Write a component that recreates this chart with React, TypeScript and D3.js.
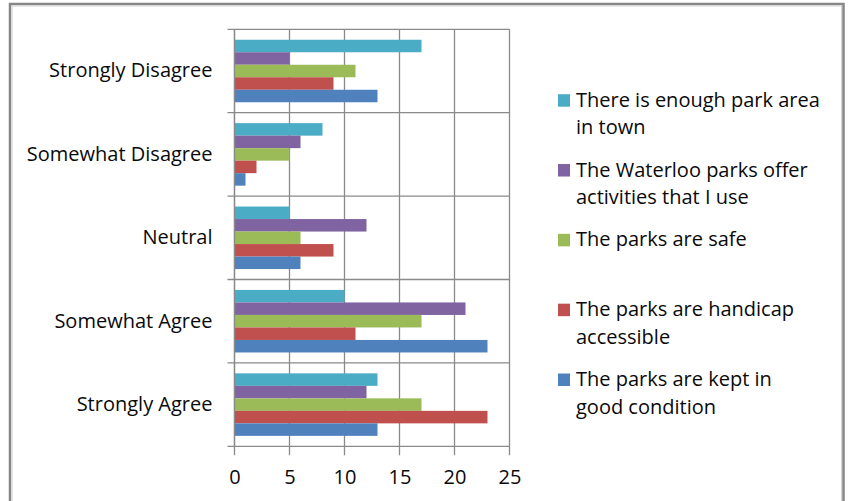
import React, { useEffect, useRef } from 'react';
import * as d3 from 'd3';

// categories, top to bottom as drawn
const categories = ['Strongly Disagree', 'Somewhat Disagree', 'Neutral', 'Somewhat Agree', 'Strongly Agree'];

// series, in the order they stack top to bottom inside a category
const seriesNames = [
  'There is enough park area in town',
  'The Waterloo parks offer activities that I use',
  'The parks are safe',
  'The parks are handicap accessible',
  'The parks are kept in good condition',
];
const seriesColors = ['#4BACC6', '#8064A2', '#9BBB59', '#C0504D', '#4F81BD'];

// legend text lines (same order as seriesNames)
const legendLines = [
  ['There is enough park area', 'in town'],
  ['The Waterloo parks offer', 'activities that I use'],
  ['The parks are safe'],
  ['The parks are handicap', 'accessible'],
  ['The parks are kept in', 'good condition'],
];

// values per category (rows follow categories), columns follow seriesNames
const enoughArea = [17, 8, 5, 10, 13];
const activities = [5, 6, 12, 21, 12];
const safe = [11, 5, 6, 17, 17];
const accessible = [9, 2, 9, 11, 23];
const goodCondition = [13, 1, 6, 23, 13];
const seriesValues = [enoughArea, activities, safe, accessible, goodCondition];

const xTicks = [0, 5, 10, 15, 20, 25];

const W = 848;
const H = 501;
const FONT = "'Open Sans', 'Noto Sans', sans-serif";
const FS = '20px';

const App: React.FC = () => {
  const ref = useRef<SVGSVGElement | null>(null);

  useEffect(() => {
    if (!ref.current) return;
    const svg = d3.select<SVGSVGElement, unknown>(ref.current);
    svg.selectAll('*').remove();

    // outer chart frame
    svg.append('rect')
      .attr('x', 10).attr('y', 4).attr('width', 833.5).attr('height', 540)
      .attr('fill', '#fff').attr('stroke', '#878787').attr('stroke-width', 2.5);
    svg.append('rect')
      .attr('x', 12).attr('y', 6).attr('width', 829.5).attr('height', 540)
      .attr('fill', 'none').attr('stroke', '#d4d4d4').attr('stroke-width', 1);

    const plot = { left: 234.5, right: 509.5, top: 29.3, bottom: 446.3 };

    const x = d3.scaleLinear().domain([0, 25]).range([plot.left, plot.right]);
    const y = d3.scaleBand<string>().domain(categories).range([plot.top, plot.bottom]).paddingInner(0).paddingOuter(0);
    const ySub = d3.scaleBand<number>()
      .domain(d3.range(seriesNames.length))
      .range([0, y.bandwidth()])
      .paddingInner(0)
      .paddingOuter(0.835);

    const grid = svg.append('g').attr('stroke', '#8a8a8a').attr('stroke-width', 1.3);

    // vertical gridlines + ticks below axis
    grid.selectAll('line.v')
      .data(xTicks)
      .join('line')
      .attr('x1', d => x(d)).attr('x2', d => x(d))
      .attr('y1', plot.top).attr('y2', plot.bottom + 9);

    // horizontal lines at category boundaries + ticks left of axis
    const bounds = categories.map(c => y(c) as number).concat([plot.bottom]);
    grid.selectAll('line.h')
      .data(bounds)
      .join('line')
      .attr('x1', plot.left - 7).attr('x2', plot.right)
      .attr('y1', d => d).attr('y2', d => d);

    // bars
    const groups = svg.append('g')
      .selectAll('g')
      .data(categories)
      .join('g')
      .attr('transform', c => `translate(0,${y(c)})`);

    groups.selectAll('rect')
      .data((c, ci) => seriesValues.map((vals, si) => ({ si, v: vals[ci] })))
      .join('rect')
      .attr('x', x(0))
      .attr('y', d => ySub(d.si) as number)
      .attr('width', d => x(d.v) - x(0))
      .attr('height', ySub.bandwidth())
      .attr('fill', d => seriesColors[d.si]);

    // axis line on the left over the bars
    svg.append('line')
      .attr('x1', plot.left).attr('x2', plot.left)
      .attr('y1', plot.top).attr('y2', plot.bottom)
      .attr('stroke', '#8a8a8a').attr('stroke-width', 1.3);

    // category labels
    const yAxis = svg.append('g')
      .attr('transform', `translate(${plot.left},0)`)
      .call(d3.axisLeft(y).tickSize(0).tickPadding(22));
    yAxis.select('.domain').remove();
    yAxis.selectAll('text')
      .style('font-family', FONT)
      .style('font-size', FS)
      .attr('fill', '#0a0a0a');

    // value axis labels
    const xAxis = svg.append('g')
      .attr('transform', `translate(0,${plot.bottom})`)
      .call(d3.axisBottom(x).tickValues(xTicks).tickSize(0).tickPadding(24));
    xAxis.select('.domain').remove();
    xAxis.selectAll('text')
      .style('font-family', FONT)
      .style('font-size', FS)
      .attr('fill', '#0a0a0a');

    // legend
    const ly = d3.scalePoint<number>().domain(d3.range(seriesNames.length)).range([106.7, 386]);
    const legend = svg.append('g')
      .selectAll('g')
      .data(legendLines)
      .join('g')
      .attr('transform', (_, i) => `translate(558,${ly(i)})`);
    legend.append('rect')
      .attr('x', 0).attr('y', -12.5).attr('width', 12).attr('height', 12.5)
      .attr('fill', (_, i) => seriesColors[i]);
    legend.append('text')
      .style('font-family', FONT)
      .style('font-size', FS)
      .attr('fill', '#0a0a0a')
      .selectAll('tspan')
      .data(d => d)
      .join('tspan')
      .attr('x', 18)
      .attr('y', (_, j) => j * 27.5)
      .text(d => d);
  }, []);

  return (
    <div style={{ position: 'absolute', left: 0, top: 0 }}>
      <svg ref={ref} width={W} height={H} style={{ display: 'block' }} />
    </div>
  );
};

export default App;
